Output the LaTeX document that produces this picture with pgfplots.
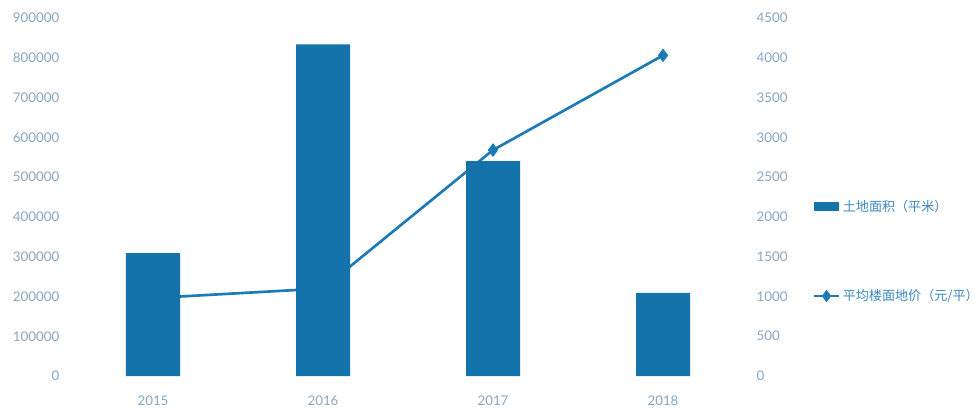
\documentclass[border=0pt]{standalone}
\usepackage{pgfplots}
\pgfplotsset{compat=1.18}
\usepackage{fontspec}
\setmainfont{Lato}
\newfontfamily\cjk{Noto Sans CJK SC}
\definecolor{barblue}{RGB}{19,115,170}
\definecolor{lineblue}{RGB}{28,122,182}
\definecolor{ticktext}{RGB}{135,165,195}
\definecolor{legtext}{RGB}{60,135,190}
\pgfplotsset{
  mylineleg/.style={legend image code/.code={%
    \draw[##1, mark repeat=2, mark phase=2] plot coordinates {(0pt,0pt) (9.25pt,0pt) (18.5pt,0pt)};}},
}
\begin{document}
\begin{tikzpicture}
\useasboundingbox (0,0) rectangle (733.5pt,305.25pt);
% line axis (right), drawn first so bars cover it
\begin{axis}[
  at={(51pt,23.25pt)}, anchor=south west,
  scale only axis, width=510pt, height=268.5pt,
  xmin=-0.5, xmax=3.5, ymin=0, ymax=4500,
  axis x line=none,
  axis y line*=right,
  y axis line style={draw=none},
  ytick={0,500,...,4500},
  major tick length=0pt,
  yticklabel style={font=\fontsize{10}{12}\selectfont, text=ticktext, xshift=3pt},
  /pgf/number format/assume math mode=true,
  /pgf/number format/fixed,
  /pgf/number format/precision=0,
  /pgf/number format/1000 sep={},
  scaled y ticks=false,
]
\addplot[lineblue, line width=2pt, mark=diamond*, mark size=3.5pt, mark options={fill=lineblue, draw=lineblue}]
  coordinates {(0,980) (1,1100) (2,2840) (3,4030)};
\end{axis}
% bar axis (left)
\begin{axis}[
  at={(51pt,23.25pt)}, anchor=south west,
  scale only axis, width=510pt, height=268.5pt,
  xmin=-0.5, xmax=3.5, ymin=0, ymax=900000,
  axis x line*=bottom, axis y line*=left,
  x axis line style={draw=none}, y axis line style={draw=none},
  xtick={0,1,2,3}, xticklabels={2015,2016,2017,2018},
  ytick={0,100000,...,900000},
  major tick length=0pt,
  yticklabel style={font=\fontsize{10}{12}\selectfont, text=ticktext, xshift=-3pt},
  xticklabel style={font=\fontsize{10}{12}\selectfont, text=ticktext, yshift=-11pt},
  /pgf/number format/assume math mode=true,
  /pgf/number format/fixed,
  /pgf/number format/precision=0,
  /pgf/number format/1000 sep={},
  scaled y ticks=false,
  legend cell align=left,
  legend style={at={(1.095,0.348)}, anchor=west, draw=none, fill=none,
    row sep=53pt, font=\cjk\fontsize{9.8}{11.5}\selectfont, text=legtext,
    inner sep=0pt},
]
\addplot[ybar, bar width=40.5pt, fill=barblue, draw=none,
  legend image code/.code={\fill[barblue] (0pt,-3.5pt) rectangle (18.5pt,3.5pt);}]
  coordinates {(0,309000) (1,834000) (2,540000) (3,209000)};
\addlegendentry{土地面积（平米）}
\addlegendimage{mylineleg, lineblue, line width=2pt, mark=diamond*, mark size=3pt, mark options={fill=lineblue}}
\addlegendentry{平均楼面地价（元/平）}
\end{axis}
\end{tikzpicture}
\end{document}
